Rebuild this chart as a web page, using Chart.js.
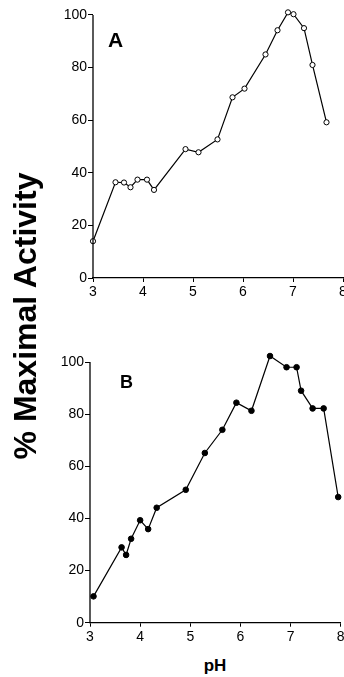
<!DOCTYPE html>
<html>
<head>
<meta charset="utf-8">
<script src="https://cdn.jsdelivr.net/npm/chart.js@4/dist/chart.umd.min.js"></script>
<style>
  html, body { margin: 0; padding: 0; background: #fff; overflow: hidden; }
  body { width: 344px; height: 677px; position: relative; font-family: "Liberation Sans", Arial, sans-serif; }
  canvas { position: absolute; left: 0; }
  .lbl { position: absolute; line-height: 1; white-space: nowrap; color: #000; }
</style>
</head>
<body>
<canvas id="chartA" width="360" height="300" style="top:0px;width:360px;height:300px"></canvas>
<canvas id="chartB" width="360" height="305" style="top:340px;width:360px;height:305px"></canvas>

<div class="lbl" style="left:108px;top:29px;font-size:21px;font-weight:bold">A</div>
<div class="lbl" style="left:120px;top:373px;font-size:18px;font-weight:bold">B</div>
<div class="lbl" style="left:175px;top:657px;width:80px;text-align:center;font-size:17px;font-weight:bold">pH</div>
<div class="lbl" style="left:-175px;top:300px;width:400px;height:32px;text-align:center;font-size:32px;font-weight:bold;transform:rotate(-90deg);transform-origin:50% 50%">% Maximal Activity</div>

<script>
// pH values and % maximal activity, panel A (open circles)
const phA = [3.0, 3.45, 3.62, 3.75, 3.89, 4.08, 4.22, 4.85, 5.11, 5.49, 5.79, 6.03, 6.45, 6.69, 6.90, 7.01, 7.22, 7.39, 7.67];
const actA = [14, 36.4, 36.3, 34.5, 37.4, 37.4, 33.5, 49, 47.8, 52.7, 68.7, 72, 85, 94.2, 101, 100.3, 95, 81, 59.2];

// panel B (filled circles)
const phB = [3.07, 3.63, 3.72, 3.82, 4.0, 4.16, 4.33, 4.91, 5.29, 5.64, 5.92, 6.22, 6.59, 6.92, 7.12, 7.21, 7.44, 7.66, 7.95];
const actB = [10.1, 28.9, 26, 32.2, 39.3, 35.9, 44.1, 51, 65.1, 74, 84.4, 81.3, 102.3, 98, 98, 89, 82.2, 82.2, 48.2];

// tick labels
const xTicks = [3, 4, 5, 6, 7, 8];
const yTicks = [0, 20, 40, 60, 80, 100];

const tickFont = { family: '"Liberation Sans", Arial, sans-serif', size: 14 };

// y axis line only from first to last tick (points above 100 still need room)
const yAxisLine = {
  id: 'yAxisLine',
  afterDraw(chart) {
    const y = chart.scales.y, ctx = chart.ctx;
    ctx.save();
    ctx.strokeStyle = '#000';
    ctx.lineWidth = 1.3;
    ctx.beginPath();
    ctx.moveTo(chart.chartArea.left, y.getPixelForValue(yTicks[0]));
    ctx.lineTo(chart.chartArea.left, y.getPixelForValue(yTicks[yTicks.length - 1]));
    ctx.stroke();
    ctx.restore();
  }
};

function makeChart(id, xs, ys, filled, box) {
  const ctx = document.getElementById(id).getContext('2d');
  return new Chart(ctx, {
    type: 'scatter',
    data: {
      datasets: [{
        data: xs.map((x, i) => ({ x: x, y: ys[i] })),
        showLine: true,
        borderColor: '#000',
        borderWidth: 1.2,
        tension: 0,
        clip: false,
        pointRadius: filled ? 2.8 : 2.6,
        pointBorderWidth: 1,
        pointBorderColor: '#000',
        pointBackgroundColor: filled ? '#000' : '#fff'
      }]
    },
    options: {
      responsive: false,
      animation: false,
      events: [],
      layout: { padding: { top: box.top, left: 0, right: box.right, bottom: 0 } },
      plugins: { legend: { display: false }, tooltip: { enabled: false } },
      scales: {
        x: {
          type: 'linear',
          min: xTicks[0],
          max: xTicks[xTicks.length - 1],
          afterBuildTicks: s => { s.ticks = xTicks.map(v => ({ value: v })); },
          afterFit: s => { s.height = box.xh; s.paddingLeft = 0; s.paddingRight = 0; },
          grid: { drawOnChartArea: false, drawTicks: true, tickLength: 4, color: '#000', lineWidth: 1 },
          border: { display: true, color: '#000', width: 1.3 },
          ticks: { color: '#000', font: tickFont, padding: 2, maxRotation: 0, autoSkip: false }
        },
        y: {
          type: 'linear',
          min: yTicks[0],
          max: 103,
          afterBuildTicks: s => { s.ticks = yTicks.map(v => ({ value: v })); },
          afterFit: s => { s.width = box.yw; s.paddingTop = 0; s.paddingBottom = 0; },
          grid: { drawOnChartArea: false, drawTicks: true, tickLength: 5, color: '#000', lineWidth: 1 },
          border: { display: false },
          ticks: { color: '#000', font: tickFont, padding: 1, autoSkip: false }
        }
      }
    },
    plugins: [yAxisLine]
  });
}

makeChart('chartA', phA, actA, false, { top: 7.1, right: 17, yw: 93, xh: 22 });
makeChart('chartB', phB, actB, true, { top: 14.2, right: 19.3, yw: 90, xh: 22.3 });
</script>
</body>
</html>
